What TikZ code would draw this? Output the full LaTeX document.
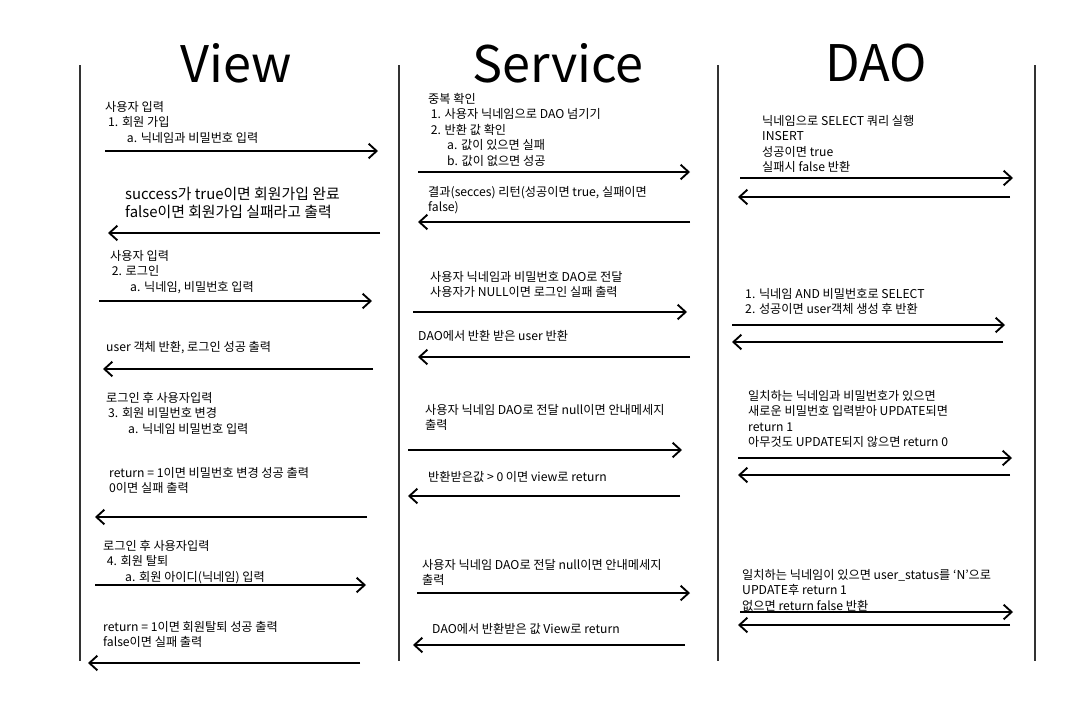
\documentclass[tikz,border=0pt]{standalone}
\usepackage{fontspec}
\setmainfont{Noto Sans CJK KR}
\usetikzlibrary{arrows.meta}

\begin{document}
\begin{tikzpicture}[x=0.3mm, y=-0.3mm,
        life/.style={draw=black!80, line width=0.9pt},
        msg/.style={draw=black, line width=1.6pt,
                    -{Straight Barb[length=2.4mm, width=4.4mm, line width=1.6pt]}},
        txt/.style={anchor=north west, inner sep=0pt, align=left,
                    font=\fontsize{10.4}{13.2}\selectfont},
        bigtxt/.style={anchor=north west, inner sep=0pt, align=left,
                       font=\fontsize{12.7}{15.5}\selectfont},
        ttl/.style={inner sep=0pt, font=\fontsize{43}{48}\selectfont}]
        \useasboundingbox (0,0) rectangle (1089,715);
        % column titles
        \node[ttl] (tview) at (236,63) {View};
        \node[ttl] (tserv) at (558,63) {Service};
        \node[ttl] (tdao)  at (876,63) {DAO};
        % life lines
        \foreach \x [count=\i] in {80,399,718,1035} {
          \coordinate (top\i) at (\x,65);
          \coordinate (bot\i) at (\x,661);
          \draw[life] (top\i) -- (bot\i);
        }
        % View
        \node[txt] (v1) at (105,101) {사용자 입력\\\hspace*{0.9mm}1. 회원 가입\\\hspace*{6.5mm}a. 닉네임과 비밀번호 입력};
        \node[bigtxt] (v2) at (125,187) {success가 true이면 회원가입 완료\\false이면 회원가입 실패라고 출력};
        \node[txt] (v3) at (110,250) {사용자 입력\\\hspace*{0.5mm}2. 로그인\\\hspace*{6mm}a. 닉네임, 비밀번호 입력};
        \node[txt] (v4) at (106,341) {user 객체 반환, 로그인 성공 출력};
        \node[txt] (v5) at (106,392) {로그인 후 사용자입력\\\hspace*{0.6mm}3. 회원 비밀번호 변경\\\hspace*{6.6mm}a. 닉네임 비밀번호 입력};
        \node[txt] (v6) at (109,467) {return = 1이면 비밀번호 변경 성공 출력\\0이면 실패 출력};
        \node[txt] (v7) at (103,540) {로그인 후 사용자입력\\\hspace*{1.1mm}4. 회원 탈퇴\\\hspace*{6.6mm}a. 회원 아이디(닉네임) 입력};
        \node[txt] (v8) at (103,621) {return = 1이면 회원탈퇴 성공 출력\\false이면 실패 출력};
        % Service
        \node[txt] (s1) at (428,93) {중복 확인\\\hspace*{0.8mm}1. 사용자 닉네임으로 DAO 넘기기\\\hspace*{0.8mm}2. 반환 값 확인\\\hspace*{5.7mm}a. 값이 있으면 실패\\\hspace*{5.7mm}b. 값이 없으면 성공};
        \node[txt] (s2) at (428,186) {결과(secces) 리턴(성공이면 true, 실패이면\\false)};
        \node[txt] (s3) at (430,271) {사용자 닉네임과 비밀번호 DAO로 전달\\사용자가 NULL이면 로그인 실패 출력};
        \node[txt] (s4) at (418,330) {DAO에서 반환 받은 user 반환};
        \node[txt] (s5) at (425,404) {사용자 닉네임 DAO로 전달 null이면 안내메세지\\출력};
        \node[txt] (s6) at (428,471) {반환받은값 > 0 이면 view로 return};
        \node[txt] (s7) at (422,559) {사용자 닉네임 DAO로 전달 null이면 안내메세지\\출력};
        \node[txt] (s8) at (432,623) {DAO에서 반환받은 값 View로 return};
        % DAO
        \node[txt] (d1) at (762,115) {닉네임으로 SELECT 쿼리 실행\\INSERT\\성공이면 true\\실패시 false 반환};
        \node[txt] (d2) at (745,288) {1. 닉네임 AND 비밀번호로 SELECT\\2. 성공이면 user객체 생성 후 반환};
        \node[txt] (d3) at (748,390) {일치하는 닉네임과 비밀번호가 있으면\\새로운 비밀번호 입력받아 UPDATE되면\\return 1\\아무것도 UPDATE되지 않으면 return 0};
        \node[txt] (d4) at (742,569) {일치하는 닉네임이 있으면 user\_status를 ‘N’으로\\UPDATE후 return 1\\없으면 return false 반환};
        % messages
        \foreach \n/\xa/\xb/\y in {va1/105/378/151, va2/380/108/233, va3/99/372/301,
            va4/373/103/369, va5/367/95/517, va6/95/366/585, va7/360/88/663,
            sa1/418/690/172, sa2/690/418/222, sa3/413/687/312, sa4/690/418/357,
            sa5/408/682/450, sa6/680/408/496, sa7/417/690/593, sa8/685/413/645,
            da1/740/1013/178, da2/1010/738/197, da3/732/1005/325, da4/1003/732/342,
            da5/738/1012/458, da6/1010/738/475, da7/740/1013/612, da8/1010/738/625} {
          \coordinate (\n-a) at (\xa,\y);
          \coordinate (\n-b) at (\xb,\y);
          \draw[msg] (\n-a) -- (\n-b);
        }
\end{tikzpicture}
\end{document}
